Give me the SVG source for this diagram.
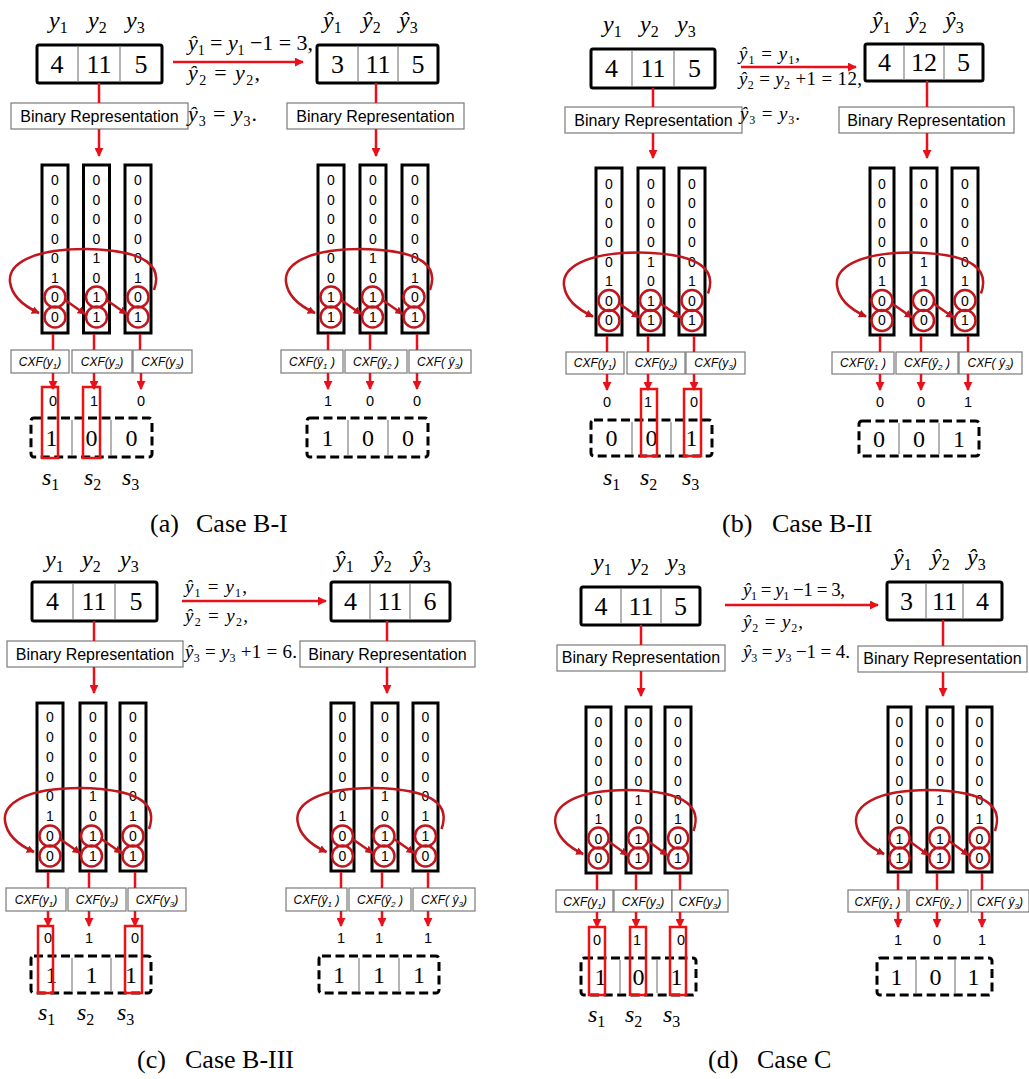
<svg xmlns="http://www.w3.org/2000/svg" xmlns:xlink="http://www.w3.org/1999/xlink" width="1029" height="1079" viewBox="0 0 1029 1079">
<style>
.bx{fill:#fff;stroke:#000;stroke-width:3}
.dv{stroke:#8c8c8c;stroke-width:1.3}
.gb{fill:#fff;stroke:#7a7a7a;stroke-width:1.2}
.col{fill:#fff;stroke:#000;stroke-width:3}
.ds{fill:#fff;stroke:#000;stroke-width:3;stroke-dasharray:9 4.5}
.hl{fill:none;stroke:#ee1111;stroke-width:2.5}
.rl{stroke:#e8101a;stroke-width:2.5;fill:none}
.ra{stroke:#e8101a;stroke-width:2.5;fill:none;marker-end:url(#ah)}
.cc{fill:none;stroke:#c0161d;stroke-width:2.5}
.cv{fill:none;stroke:#c0161d;stroke-width:2.5;marker-end:url(#ah2)}
.v{font-family:"Liberation Serif",serif;font-size:26px;text-anchor:middle}
.v2{font-family:"Liberation Serif",serif;font-size:24px;text-anchor:middle}
.lb{font-family:"Liberation Serif",serif;font-style:italic;font-size:24px}
.sb{font-style:normal;font-size:16px}
.brt{font-family:"Liberation Sans",Arial,sans-serif;font-size:16px;text-anchor:middle}
.bit{font-family:"Liberation Sans",Arial,sans-serif;font-size:14px;text-anchor:middle}
.ob{font-family:"Liberation Sans",Arial,sans-serif;font-size:14.5px;text-anchor:middle}
.cx{font-family:"Liberation Sans",Arial,sans-serif;font-style:italic;font-size:12px;text-anchor:middle}
.cs{font-size:8px}
.fm{font-family:"Liberation Serif",serif;font-size:22px}
.fm2{font-family:"Liberation Serif",serif;font-size:19px}
.it{font-style:italic}
.fsb{font-size:14px}
.fsb2{font-size:12px}
.cap{font-family:"Liberation Serif",serif;font-size:26px}
</style>
<defs>
<marker id="ah" viewBox="0 0 10 10" refX="9" refY="5" markerWidth="9" markerHeight="9" markerUnits="userSpaceOnUse" orient="auto"><path d="M0,0 L10,5 L0,10 z" fill="#e8101a"/></marker>
<marker id="ah2" viewBox="0 0 10 10" refX="9" refY="5" markerWidth="8" markerHeight="8" markerUnits="userSpaceOnUse" orient="auto"><path d="M0,0 L10,5 L0,10 z" fill="#c0161d"/></marker>
<g id="loop">
<circle class="cc" cx="0" cy="0" r="10.5"/><circle class="cc" cx="0" cy="20" r="10.5"/>
<circle class="cc" cx="41.5" cy="0" r="10.5"/><circle class="cc" cx="41.5" cy="20" r="10.5"/>
<circle class="cc" cx="83" cy="0" r="10.5"/><circle class="cc" cx="83" cy="20" r="10.5"/>
<path class="cv" d="M99,-7 C107,-29 95,-47 30,-48 C-25,-48 -47,-32 -45,-15 C-43,1 -27,11 -16,16"/>
<path class="cv" d="M10,3 L30,17"/>
<path class="cv" d="M51.5,3 L71.5,17"/>
</g>
</defs>
<rect width="1029" height="1079" fill="#fff"/>

<!-- ================= (a) ================= -->
<g id="aL-in">
<text class="lb" x="49" y="28">y<tspan class="sb" dy="5">1</tspan></text>
<text class="lb" x="88" y="28">y<tspan class="sb" dy="5">2</tspan></text>
<text class="lb" x="126" y="28">y<tspan class="sb" dy="5">3</tspan></text>
<rect class="bx" x="37" y="45" width="125" height="38" rx="2"/>
<line class="dv" x1="78" y1="46.5" x2="78" y2="81.5"/><line class="dv" x1="120" y1="46.5" x2="120" y2="81.5"/>
<text class="v" x="57" y="73">4</text><text class="v" x="99" y="73">11</text><text class="v" x="141" y="73">5</text>
</g>
<g id="aL-br"><rect class="gb" x="11" y="103" width="177" height="26"/><text class="brt" x="99.5" y="122">Binary Representation</text></g>
<g id="aL-bits">
<rect class="col" x="42" y="165" width="26" height="168"/><rect class="col" x="83.5" y="165" width="26" height="168"/><rect class="col" x="125" y="165" width="26" height="168"/>
<text class="bit" x="55 55 55 55 55 55 55 55" y="185 204.5 224 243.5 263 282.5 302 321.5">00000100</text>
<text class="bit" x="96.5 96.5 96.5 96.5 96.5 96.5 96.5 96.5" y="185 204.5 224 243.5 263 282.5 302 321.5">00001011</text>
<text class="bit" x="138 138 138 138 138 138 138 138" y="185 204.5 224 243.5 263 282.5 302 321.5">00000101</text>
</g>
<g id="aL-cxf">
<rect class="gb" x="11" y="350" width="58" height="23"/><rect class="gb" x="72" y="350" width="60" height="23"/><rect class="gb" x="133" y="350" width="59" height="23"/>
<text class="cx" x="40" y="366">CXF(y<tspan class="cs" dy="3">1</tspan><tspan dy="-3">)</tspan></text>
<text class="cx" x="102" y="366">CXF(y<tspan class="cs" dy="3">2</tspan><tspan dy="-3">)</tspan></text>
<text class="cx" x="162.5" y="366">CXF(y<tspan class="cs" dy="3">3</tspan><tspan dy="-3">)</tspan></text>
</g>
<g id="aL-out">
<text class="ob" x="53" y="406">0</text><text class="ob" x="94" y="406">1</text><text class="ob" x="141" y="406">0</text>
<rect class="ds" x="31" y="418" width="121" height="39" rx="3"/>
<line class="dv" x1="72" y1="420" x2="72" y2="455"/><line class="dv" x1="111" y1="420" x2="111" y2="455"/>
<text class="v2" x="51.5" y="446">1</text><text class="v2" x="91.5" y="446">0</text><text class="v2" x="131.5" y="446">0</text>
<rect class="hl" x="42" y="387" width="16" height="71"/><rect class="hl" x="83" y="387" width="17" height="71"/>
</g>
<g id="aL-s">
<text class="lb" x="42" y="485">s<tspan class="sb" dy="5">1</tspan></text>
<text class="lb" x="84" y="485">s<tspan class="sb" dy="5">2</tspan></text>
<text class="lb" x="122" y="485">s<tspan class="sb" dy="5">3</tspan></text>
</g>
<g id="a-eq">
<text class="fm" x="188" y="50" textLength="125"><tspan class="it">ŷ</tspan><tspan class="fsb" dy="5">1</tspan><tspan dy="-5"> = </tspan><tspan class="it">y</tspan><tspan class="fsb" dy="5">1</tspan><tspan dy="-5"> −1 = 3,</tspan></text>
<text class="fm" x="188" y="80" textLength="72"><tspan class="it">ŷ</tspan><tspan class="fsb" dy="5">2</tspan><tspan dy="-5"> = </tspan><tspan class="it">y</tspan><tspan class="fsb" dy="5">2</tspan><tspan dy="-5">,</tspan></text>
<text class="fm" x="188" y="121" textLength="69"><tspan class="it">ŷ</tspan><tspan class="fsb" dy="5">3</tspan><tspan dy="-5"> = </tspan><tspan class="it">y</tspan><tspan class="fsb" dy="5">3</tspan><tspan dy="-5">.</tspan></text>
</g>
<g id="aR-in">
<text class="lb" x="323" y="28">ŷ<tspan class="sb" dy="5">1</tspan></text>
<text class="lb" x="362" y="28">ŷ<tspan class="sb" dy="5">2</tspan></text>
<text class="lb" x="399" y="28">ŷ<tspan class="sb" dy="5">3</tspan></text>
<rect class="bx" x="317" y="45" width="121" height="38" rx="2"/>
<line class="dv" x1="358" y1="46.5" x2="358" y2="81.5"/><line class="dv" x1="398" y1="46.5" x2="398" y2="81.5"/>
<text class="v" x="337.5" y="73">3</text><text class="v" x="378" y="73">11</text><text class="v" x="418" y="73">5</text>
</g>
<g id="aR-br"><rect class="gb" x="287" y="103" width="177" height="26"/><text class="brt" x="375.5" y="122">Binary Representation</text></g>
<g id="aR-bits">
<rect class="col" x="318" y="165" width="26" height="168"/><rect class="col" x="360" y="165" width="26" height="168"/><rect class="col" x="402" y="165" width="26" height="168"/>
<text class="bit" x="331 331 331 331 331 331 331 331" y="185 204.5 224 243.5 263 282.5 302 321.5">00000011</text>
<text class="bit" x="373 373 373 373 373 373 373 373" y="185 204.5 224 243.5 263 282.5 302 321.5">00001011</text>
<text class="bit" x="415 415 415 415 415 415 415 415" y="185 204.5 224 243.5 263 282.5 302 321.5">00000101</text>
</g>
<g id="aR-cxf">
<rect class="gb" x="281" y="350" width="62" height="23"/><rect class="gb" x="345" y="350" width="62" height="23"/><rect class="gb" x="409" y="350" width="62" height="23"/>
<text class="cx" x="312" y="366">CXF(ŷ<tspan class="cs" dy="3">1</tspan><tspan dy="-3"> )</tspan></text>
<text class="cx" x="376" y="366">CXF(ŷ<tspan class="cs" dy="3">2</tspan><tspan dy="-3"> )</tspan></text>
<text class="cx" x="440" y="366">CXF( ŷ<tspan class="cs" dy="3">3</tspan><tspan dy="-3">)</tspan></text>
</g>
<g id="aR-out">
<text class="ob" x="328" y="406">1</text><text class="ob" x="370" y="406">0</text><text class="ob" x="417" y="406">0</text>
<rect class="ds" x="307" y="418" width="121" height="39" rx="3"/>
<line class="dv" x1="348" y1="420" x2="348" y2="455"/><line class="dv" x1="388" y1="420" x2="388" y2="455"/>
<text class="v2" x="327.5" y="446">1</text><text class="v2" x="368" y="446">0</text><text class="v2" x="408" y="446">0</text>
</g>
<g id="a-cap"><text class="cap" x="150" y="532">(a)</text><text class="cap" x="196" y="532">Case B-I</text></g>

<!-- ================= (b) ================= -->
<g id="bL-in">
<text class="lb" x="603" y="32">y<tspan class="sb" dy="5">1</tspan></text>
<text class="lb" x="640" y="32">y<tspan class="sb" dy="5">2</tspan></text>
<text class="lb" x="677" y="32">y<tspan class="sb" dy="5">3</tspan></text>
<rect class="bx" x="591" y="49" width="124" height="39" rx="2"/>
<line class="dv" x1="632" y1="50.5" x2="632" y2="86.5"/><line class="dv" x1="674" y1="50.5" x2="674" y2="86.5"/>
<text class="v" x="611.5" y="77">4</text><text class="v" x="653" y="77">11</text><text class="v" x="694.5" y="77">5</text>
</g>
<g id="bL-br"><rect class="gb" x="565" y="107" width="177" height="26"/><text class="brt" x="653.5" y="126">Binary Representation</text></g>
<g id="bL-bits">
<rect class="col" x="596" y="168" width="26" height="167"/><rect class="col" x="638" y="168" width="26" height="167"/><rect class="col" x="679" y="168" width="26" height="167"/>
<text class="bit" x="609 609 609 609 609 609 609 609" y="188.5 208 227.5 247 266.5 286 305.5 325">00000100</text>
<text class="bit" x="651 651 651 651 651 651 651 651" y="188.5 208 227.5 247 266.5 286 305.5 325">00001011</text>
<text class="bit" x="692 692 692 692 692 692 692 692" y="188.5 208 227.5 247 266.5 286 305.5 325">00000101</text>
</g>
<g id="bL-cxf">
<rect class="gb" x="566" y="352" width="58" height="22"/><rect class="gb" x="627" y="352" width="58" height="22"/><rect class="gb" x="686" y="352" width="59" height="22"/>
<text class="cx" x="595" y="367">CXF(y<tspan class="cs" dy="3">1</tspan><tspan dy="-3">)</tspan></text>
<text class="cx" x="656" y="367">CXF(y<tspan class="cs" dy="3">2</tspan><tspan dy="-3">)</tspan></text>
<text class="cx" x="715.5" y="367">CXF(y<tspan class="cs" dy="3">3</tspan><tspan dy="-3">)</tspan></text>
</g>
<g id="bL-out">
<text class="ob" x="607" y="407">0</text><text class="ob" x="648" y="407">1</text><text class="ob" x="694" y="407">0</text>
<rect class="ds" x="591" y="420" width="121" height="36" rx="3"/>
<line class="dv" x1="632" y1="422" x2="632" y2="454"/><line class="dv" x1="671" y1="422" x2="671" y2="454"/>
<text class="v2" x="611.5" y="446">0</text><text class="v2" x="651.5" y="446">0</text><text class="v2" x="691.5" y="446">1</text>
<rect class="hl" x="641" y="389" width="16" height="67"/><rect class="hl" x="684" y="389" width="17" height="67"/>
</g>
<g id="bL-s">
<text class="lb" x="603" y="485">s<tspan class="sb" dy="5">1</tspan></text>
<text class="lb" x="640" y="485">s<tspan class="sb" dy="5">2</tspan></text>
<text class="lb" x="682" y="485">s<tspan class="sb" dy="5">3</tspan></text>
</g>
<g id="b-eq">
<text class="fm2" x="739" y="60" textLength="61"><tspan class="it">ŷ</tspan><tspan class="fsb2" dy="4">1</tspan><tspan dy="-4"> = </tspan><tspan class="it">y</tspan><tspan class="fsb2" dy="4">1</tspan><tspan dy="-4">,</tspan></text>
<text class="fm2" x="739" y="85" textLength="123"><tspan class="it">ŷ</tspan><tspan class="fsb2" dy="4">2</tspan><tspan dy="-4"> = </tspan><tspan class="it">y</tspan><tspan class="fsb2" dy="4">2</tspan><tspan dy="-4"> +1 = 12,</tspan></text>
<text class="fm2" x="740" y="120" textLength="60"><tspan class="it">ŷ</tspan><tspan class="fsb2" dy="4">3</tspan><tspan dy="-4"> = </tspan><tspan class="it">y</tspan><tspan class="fsb2" dy="4">3</tspan><tspan dy="-4">.</tspan></text>
</g>
<g id="bR-in">
<text class="lb" x="872" y="28">ŷ<tspan class="sb" dy="5">1</tspan></text>
<text class="lb" x="908" y="28">ŷ<tspan class="sb" dy="5">2</tspan></text>
<text class="lb" x="945" y="28">ŷ<tspan class="sb" dy="5">3</tspan></text>
<rect class="bx" x="865" y="44" width="118" height="37" rx="2"/>
<line class="dv" x1="904" y1="45.5" x2="904" y2="79.5"/><line class="dv" x1="944" y1="45.5" x2="944" y2="79.5"/>
<text class="v" x="884.5" y="71">4</text><text class="v" x="924" y="71">12</text><text class="v" x="963.5" y="71">5</text>
</g>
<g id="bR-br"><rect class="gb" x="839" y="107" width="175" height="26"/><text class="brt" x="926.5" y="126">Binary Representation</text></g>
<g id="bR-bits">
<rect class="col" x="870" y="168" width="24" height="167"/><rect class="col" x="911" y="168" width="26" height="167"/><rect class="col" x="952" y="168" width="26" height="167"/>
<text class="bit" x="882 882 882 882 882 882 882 882" y="188.5 208 227.5 247 266.5 286 305.5 325">00000100</text>
<text class="bit" x="924 924 924 924 924 924 924 924" y="188.5 208 227.5 247 266.5 286 305.5 325">00001100</text>
<text class="bit" x="965 965 965 965 965 965 965 965" y="188.5 208 227.5 247 266.5 286 305.5 325">00000101</text>
</g>
<g id="bR-cxf">
<rect class="gb" x="832" y="352" width="62" height="22"/><rect class="gb" x="896" y="352" width="62" height="22"/><rect class="gb" x="959" y="352" width="63" height="22"/>
<text class="cx" x="863" y="367">CXF(ŷ<tspan class="cs" dy="3">1</tspan><tspan dy="-3"> )</tspan></text>
<text class="cx" x="927" y="367">CXF(ŷ<tspan class="cs" dy="3">2</tspan><tspan dy="-3"> )</tspan></text>
<text class="cx" x="990.5" y="367">CXF( ŷ<tspan class="cs" dy="3">3</tspan><tspan dy="-3">)</tspan></text>
</g>
<g id="bR-out">
<text class="ob" x="880" y="407">0</text><text class="ob" x="921" y="407">0</text><text class="ob" x="968" y="407">1</text>
<rect class="ds" x="859" y="421" width="120" height="35" rx="3"/>
<line class="dv" x1="899" y1="423" x2="899" y2="454"/><line class="dv" x1="939" y1="423" x2="939" y2="454"/>
<text class="v2" x="879" y="447">0</text><text class="v2" x="919" y="447">0</text><text class="v2" x="959" y="447">1</text>
</g>
<g id="b-cap"><text class="cap" x="722" y="532">(b)</text><text class="cap" x="772" y="532">Case B-II</text></g>

<!-- ================= (c) ================= -->
<g id="cL-in">
<text class="lb" x="45" y="567">y<tspan class="sb" dy="5">1</tspan></text>
<text class="lb" x="82" y="567">y<tspan class="sb" dy="5">2</tspan></text>
<text class="lb" x="120" y="567">y<tspan class="sb" dy="5">3</tspan></text>
<rect class="bx" x="32" y="582" width="125" height="39" rx="2"/>
<line class="dv" x1="73" y1="583.5" x2="73" y2="619.5"/><line class="dv" x1="115" y1="583.5" x2="115" y2="619.5"/>
<text class="v" x="52.5" y="610">4</text><text class="v" x="94" y="610">11</text><text class="v" x="136" y="610">5</text>
</g>
<g id="cL-br"><rect class="gb" x="7" y="641" width="176" height="26"/><text class="brt" x="95" y="660">Binary Representation</text></g>
<g id="cL-bits">
<rect class="col" x="37" y="703" width="26" height="168"/><rect class="col" x="80" y="703" width="26" height="168"/><rect class="col" x="120" y="703" width="26" height="168"/>
<text class="bit" x="50 50 50 50 50 50 50 50" y="722 742 762 782 801 821 841 861">00000100</text>
<text class="bit" x="93 93 93 93 93 93 93 93" y="722 742 762 782 801 821 841 861">00001011</text>
<text class="bit" x="133 133 133 133 133 133 133 133" y="722 742 762 782 801 821 841 861">00000101</text>
</g>
<g id="cL-cxf">
<rect class="gb" x="6" y="888" width="60" height="23"/><rect class="gb" x="68" y="888" width="58" height="23"/><rect class="gb" x="128" y="888" width="58" height="23"/>
<text class="cx" x="36" y="904">CXF(y<tspan class="cs" dy="3">1</tspan><tspan dy="-3">)</tspan></text>
<text class="cx" x="97" y="904">CXF(y<tspan class="cs" dy="3">2</tspan><tspan dy="-3">)</tspan></text>
<text class="cx" x="157" y="904">CXF(y<tspan class="cs" dy="3">3</tspan><tspan dy="-3">)</tspan></text>
</g>
<g id="cL-out">
<text class="ob" x="48" y="943">0</text><text class="ob" x="89" y="943">1</text><text class="ob" x="135" y="943">0</text>
<rect class="ds" x="31" y="956" width="120" height="37" rx="3"/>
<line class="dv" x1="72" y1="958" x2="72" y2="991"/><line class="dv" x1="111" y1="958" x2="111" y2="991"/>
<text class="v2" x="51.5" y="983">1</text><text class="v2" x="91.5" y="983">1</text><text class="v2" x="131" y="983">1</text>
<rect class="hl" x="38" y="926" width="15" height="67"/><rect class="hl" x="125" y="926" width="17" height="67"/>
</g>
<g id="cL-s">
<text class="lb" x="38" y="1020">s<tspan class="sb" dy="5">1</tspan></text>
<text class="lb" x="77" y="1020">s<tspan class="sb" dy="5">2</tspan></text>
<text class="lb" x="117" y="1020">s<tspan class="sb" dy="5">3</tspan></text>
</g>
<g id="c-eq">
<text class="fm2" x="185" y="593" textLength="62"><tspan class="it">ŷ</tspan><tspan class="fsb2" dy="4">1</tspan><tspan dy="-4"> = </tspan><tspan class="it">y</tspan><tspan class="fsb2" dy="4">1</tspan><tspan dy="-4">,</tspan></text>
<text class="fm2" x="185" y="622" textLength="63"><tspan class="it">ŷ</tspan><tspan class="fsb2" dy="4">2</tspan><tspan dy="-4"> = </tspan><tspan class="it">y</tspan><tspan class="fsb2" dy="4">2</tspan><tspan dy="-4">,</tspan></text>
<text class="fm2" x="185" y="658" textLength="112"><tspan class="it">ŷ</tspan><tspan class="fsb2" dy="4">3</tspan><tspan dy="-4"> = </tspan><tspan class="it">y</tspan><tspan class="fsb2" dy="4">3</tspan><tspan dy="-4"> +1 = 6.</tspan></text>
</g>
<g id="cR-in">
<text class="lb" x="335" y="567">ŷ<tspan class="sb" dy="5">1</tspan></text>
<text class="lb" x="373" y="567">ŷ<tspan class="sb" dy="5">2</tspan></text>
<text class="lb" x="412" y="567">ŷ<tspan class="sb" dy="5">3</tspan></text>
<rect class="bx" x="331" y="582" width="119" height="39" rx="2"/>
<line class="dv" x1="370" y1="583.5" x2="370" y2="619.5"/><line class="dv" x1="410" y1="583.5" x2="410" y2="619.5"/>
<text class="v" x="350.5" y="610">4</text><text class="v" x="390" y="610">11</text><text class="v" x="430" y="610">6</text>
</g>
<g id="cR-br"><rect class="gb" x="300" y="641" width="175" height="26"/><text class="brt" x="387.5" y="660">Binary Representation</text></g>
<g id="cR-bits">
<rect class="col" x="331" y="703" width="23" height="168"/><rect class="col" x="372" y="703" width="26" height="168"/><rect class="col" x="413" y="703" width="25" height="168"/>
<text class="bit" x="342.5 342.5 342.5 342.5 342.5 342.5 342.5 342.5" y="722 742 762 782 801 821 841 861">00000100</text>
<text class="bit" x="385 385 385 385 385 385 385 385" y="722 742 762 782 801 821 841 861">00001011</text>
<text class="bit" x="425.5 425.5 425.5 425.5 425.5 425.5 425.5 425.5" y="722 742 762 782 801 821 841 861">00000110</text>
</g>
<g id="cR-cxf">
<rect class="gb" x="286" y="888" width="61" height="23"/><rect class="gb" x="349" y="888" width="62" height="23"/><rect class="gb" x="413" y="888" width="62" height="23"/>
<text class="cx" x="316.5" y="904">CXF(ŷ<tspan class="cs" dy="3">1</tspan><tspan dy="-3"> )</tspan></text>
<text class="cx" x="380" y="904">CXF(ŷ<tspan class="cs" dy="3">2</tspan><tspan dy="-3"> )</tspan></text>
<text class="cx" x="444" y="904">CXF( ŷ<tspan class="cs" dy="3">3</tspan><tspan dy="-3">)</tspan></text>
</g>
<g id="cR-out">
<text class="ob" x="341" y="943">1</text><text class="ob" x="379" y="943">1</text><text class="ob" x="428" y="943">1</text>
<rect class="ds" x="319" y="956" width="120" height="37" rx="3"/>
<line class="dv" x1="359" y1="958" x2="359" y2="991"/><line class="dv" x1="399" y1="958" x2="399" y2="991"/>
<text class="v2" x="339" y="983">1</text><text class="v2" x="379" y="983">1</text><text class="v2" x="419" y="983">1</text>
</g>
<g id="c-cap"><text class="cap" x="137" y="1068">(c)</text><text class="cap" x="185" y="1068">Case B-III</text></g>

<!-- ================= (d) ================= -->
<g id="dL-in">
<text class="lb" x="593" y="570">y<tspan class="sb" dy="5">1</tspan></text>
<text class="lb" x="630" y="570">y<tspan class="sb" dy="5">2</tspan></text>
<text class="lb" x="667" y="570">y<tspan class="sb" dy="5">3</tspan></text>
<rect class="bx" x="581" y="587" width="119" height="38" rx="2"/>
<line class="dv" x1="621" y1="588.5" x2="621" y2="623.5"/><line class="dv" x1="661" y1="588.5" x2="661" y2="623.5"/>
<text class="v" x="601" y="615">4</text><text class="v" x="641" y="615">11</text><text class="v" x="680.5" y="615">5</text>
</g>
<g id="dL-br"><rect class="gb" x="557" y="645" width="168" height="26"/><text class="brt" x="641" y="663">Binary Representation</text></g>
<g id="dL-bits">
<rect class="col" x="586" y="707" width="25" height="166"/><rect class="col" x="626" y="707" width="25" height="166"/><rect class="col" x="665" y="707" width="26" height="166"/>
<text class="bit" x="598.5 598.5 598.5 598.5 598.5 598.5 598.5 598.5" y="727 746.5 766 785.5 805 824 843.5 863">00000100</text>
<text class="bit" x="638.5 638.5 638.5 638.5 638.5 638.5 638.5 638.5" y="727 746.5 766 785.5 805 824 843.5 863">00001011</text>
<text class="bit" x="678 678 678 678 678 678 678 678" y="727 746.5 766 785.5 805 824 843.5 863">00000101</text>
</g>
<g id="dL-cxf">
<rect class="gb" x="556" y="890" width="57" height="22"/><rect class="gb" x="614" y="890" width="58" height="22"/><rect class="gb" x="672" y="890" width="56" height="22"/>
<text class="cx" x="584.5" y="906">CXF(y<tspan class="cs" dy="3">1</tspan><tspan dy="-3">)</tspan></text>
<text class="cx" x="643" y="906">CXF(y<tspan class="cs" dy="3">2</tspan><tspan dy="-3">)</tspan></text>
<text class="cx" x="700" y="906">CXF(y<tspan class="cs" dy="3">3</tspan><tspan dy="-3">)</tspan></text>
</g>
<g id="dL-out">
<text class="ob" x="597" y="945">0</text><text class="ob" x="637" y="945">1</text><text class="ob" x="681" y="945">0</text>
<rect class="ds" x="581" y="958" width="115" height="37" rx="3"/>
<line class="dv" x1="620" y1="960" x2="620" y2="993"/><line class="dv" x1="657" y1="960" x2="657" y2="993"/>
<text class="v2" x="600.5" y="985">1</text><text class="v2" x="638.5" y="985">0</text><text class="v2" x="676.5" y="985">1</text>
<rect class="hl" x="589" y="927" width="16" height="68"/><rect class="hl" x="630" y="927" width="16" height="68"/><rect class="hl" x="670" y="927" width="16" height="68"/>
</g>
<g id="dL-s">
<text class="lb" x="588" y="1022">s<tspan class="sb" dy="5">1</tspan></text>
<text class="lb" x="625" y="1022">s<tspan class="sb" dy="5">2</tspan></text>
<text class="lb" x="663" y="1022">s<tspan class="sb" dy="5">3</tspan></text>
</g>
<g id="d-eq">
<text class="fm2" x="743" y="596" textLength="102"><tspan class="it">ŷ</tspan><tspan class="fsb2" dy="4">1</tspan><tspan dy="-4"> = </tspan><tspan class="it">y</tspan><tspan class="fsb2" dy="4">1</tspan><tspan dy="-4"> −1 = 3,</tspan></text>
<text class="fm2" x="743" y="628" textLength="60"><tspan class="it">ŷ</tspan><tspan class="fsb2" dy="4">2</tspan><tspan dy="-4"> = </tspan><tspan class="it">y</tspan><tspan class="fsb2" dy="4">2</tspan><tspan dy="-4">,</tspan></text>
<text class="fm2" x="743" y="658" textLength="107"><tspan class="it">ŷ</tspan><tspan class="fsb2" dy="4">3</tspan><tspan dy="-4"> = </tspan><tspan class="it">y</tspan><tspan class="fsb2" dy="4">3</tspan><tspan dy="-4"> −1 = 4.</tspan></text>
</g>
<g id="dR-in">
<text class="lb" x="893" y="565">ŷ<tspan class="sb" dy="5">1</tspan></text>
<text class="lb" x="931" y="565">ŷ<tspan class="sb" dy="5">2</tspan></text>
<text class="lb" x="967" y="565">ŷ<tspan class="sb" dy="5">3</tspan></text>
<rect class="bx" x="887" y="582" width="115" height="38" rx="2"/>
<line class="dv" x1="926" y1="583.5" x2="926" y2="618.5"/><line class="dv" x1="963" y1="583.5" x2="963" y2="618.5"/>
<text class="v" x="906.5" y="610">3</text><text class="v" x="944.5" y="610">11</text><text class="v" x="982.5" y="610">4</text>
</g>
<g id="dR-br"><rect class="gb" x="858" y="646" width="169" height="26"/><text class="brt" x="942.5" y="664">Binary Representation</text></g>
<g id="dR-bits">
<rect class="col" x="888" y="707" width="23" height="165"/><rect class="col" x="927" y="707" width="26" height="165"/><rect class="col" x="967" y="707" width="25" height="165"/>
<text class="bit" x="899.5 899.5 899.5 899.5 899.5 899.5 899.5 899.5" y="727 746.5 766 785.5 805 824 843.5 863">00000011</text>
<text class="bit" x="940 940 940 940 940 940 940 940" y="727 746.5 766 785.5 805 824 843.5 863">00001011</text>
<text class="bit" x="979.5 979.5 979.5 979.5 979.5 979.5 979.5 979.5" y="727 746.5 766 785.5 805 824 843.5 863">00000100</text>
</g>
<g id="dR-cxf">
<rect class="gb" x="848" y="890" width="59" height="22"/><rect class="gb" x="909" y="890" width="59" height="22"/><rect class="gb" x="971" y="890" width="58" height="22"/>
<text class="cx" x="877.5" y="906">CXF(ŷ<tspan class="cs" dy="3">1</tspan><tspan dy="-3"> )</tspan></text>
<text class="cx" x="938.5" y="906">CXF(ŷ<tspan class="cs" dy="3">2</tspan><tspan dy="-3"> )</tspan></text>
<text class="cx" x="1000" y="906">CXF( ŷ<tspan class="cs" dy="3">3</tspan><tspan dy="-3">)</tspan></text>
</g>
<g id="dR-out">
<text class="ob" x="898" y="945">1</text><text class="ob" x="937" y="945">0</text><text class="ob" x="982" y="945">1</text>
<rect class="ds" x="877" y="958" width="115" height="37" rx="3"/>
<line class="dv" x1="916" y1="960" x2="916" y2="993"/><line class="dv" x1="955" y1="960" x2="955" y2="993"/>
<text class="v2" x="896.5" y="985">1</text><text class="v2" x="935.5" y="985">0</text><text class="v2" x="973.5" y="985">1</text>
</g>
<g id="d-cap"><text class="cap" x="708" y="1068">(d)</text><text class="cap" x="757" y="1068">Case C</text></g>

<!-- ================= connectors ================= -->
<g id="connectors">
<line class="rl" x1="99" y1="83" x2="99" y2="103"/><line class="ra" x1="99" y1="129" x2="99" y2="156"/>
<line class="rl" x1="53" y1="334" x2="53" y2="350"/><line class="rl" x1="94" y1="334" x2="94" y2="350"/><line class="rl" x1="140" y1="334" x2="140" y2="350"/>
<line class="ra" x1="53" y1="373" x2="53" y2="389"/><line class="ra" x1="94" y1="373" x2="94" y2="389"/><line class="ra" x1="141" y1="373" x2="141" y2="389"/>
<use href="#loop" xlink:href="#loop" transform="translate(55,297)"/>
<line class="ra" x1="173" y1="62" x2="303" y2="62"/>
<line class="rl" x1="376" y1="83" x2="376" y2="103"/><line class="ra" x1="376" y1="129" x2="376" y2="156"/>
<line class="rl" x1="328" y1="334" x2="328" y2="350"/><line class="rl" x1="370" y1="334" x2="370" y2="350"/><line class="rl" x1="417" y1="334" x2="417" y2="350"/>
<line class="ra" x1="328" y1="373" x2="328" y2="389"/><line class="ra" x1="370" y1="373" x2="370" y2="389"/><line class="ra" x1="417" y1="373" x2="417" y2="389"/>
<use href="#loop" xlink:href="#loop" transform="translate(331,297)"/>
<line class="rl" x1="653" y1="88" x2="653" y2="107"/><line class="ra" x1="653" y1="133" x2="653" y2="158"/>
<line class="rl" x1="607" y1="336" x2="607" y2="352"/><line class="rl" x1="648" y1="336" x2="648" y2="352"/><line class="rl" x1="694" y1="336" x2="694" y2="352"/>
<line class="ra" x1="607" y1="374" x2="607" y2="390"/><line class="ra" x1="648" y1="374" x2="648" y2="390"/><line class="ra" x1="694" y1="374" x2="694" y2="390"/>
<use href="#loop" xlink:href="#loop" transform="translate(609,300.5)"/>
<line class="ra" x1="741" y1="67" x2="856" y2="67"/>
<line class="rl" x1="927" y1="81" x2="927" y2="107"/><line class="ra" x1="927" y1="133" x2="927" y2="158"/>
<line class="rl" x1="880" y1="336" x2="880" y2="352"/><line class="rl" x1="921" y1="336" x2="921" y2="352"/><line class="rl" x1="968" y1="336" x2="968" y2="352"/>
<line class="ra" x1="880" y1="374" x2="880" y2="390"/><line class="ra" x1="921" y1="374" x2="921" y2="390"/><line class="ra" x1="968" y1="374" x2="968" y2="390"/>
<use href="#loop" xlink:href="#loop" transform="translate(882,300.5)"/>
<line class="rl" x1="94" y1="621" x2="94" y2="641"/><line class="ra" x1="94" y1="667" x2="94" y2="693"/>
<line class="rl" x1="48" y1="872" x2="48" y2="888"/><line class="rl" x1="89" y1="872" x2="89" y2="888"/><line class="rl" x1="135" y1="872" x2="135" y2="888"/>
<line class="ra" x1="48" y1="911" x2="48" y2="926"/><line class="ra" x1="89" y1="911" x2="89" y2="926"/><line class="ra" x1="135" y1="911" x2="135" y2="926"/>
<use href="#loop" xlink:href="#loop" transform="translate(50,836)"/>
<line class="ra" x1="182" y1="601" x2="326" y2="601"/>
<line class="rl" x1="387" y1="621" x2="387" y2="641"/><line class="ra" x1="387" y1="667" x2="387" y2="693"/>
<line class="rl" x1="341" y1="872" x2="341" y2="888"/><line class="rl" x1="382" y1="872" x2="382" y2="888"/><line class="rl" x1="428" y1="872" x2="428" y2="888"/>
<line class="ra" x1="341" y1="911" x2="341" y2="926"/><line class="ra" x1="382" y1="911" x2="382" y2="926"/><line class="ra" x1="428" y1="911" x2="428" y2="926"/>
<use href="#loop" xlink:href="#loop" transform="translate(342.5,836)"/>
<line class="rl" x1="641" y1="625" x2="641" y2="645"/><line class="ra" x1="641" y1="671" x2="641" y2="696"/>
<line class="rl" x1="597" y1="874" x2="597" y2="890"/><line class="rl" x1="636" y1="874" x2="636" y2="890"/><line class="rl" x1="680" y1="874" x2="680" y2="890"/>
<line class="ra" x1="597" y1="912" x2="597" y2="927"/><line class="ra" x1="636" y1="912" x2="636" y2="927"/><line class="ra" x1="680" y1="912" x2="680" y2="927"/>
<use href="#loop" xlink:href="#loop" transform="translate(598.5,838) scale(0.96,1)"/>
<line class="ra" x1="725" y1="605" x2="878" y2="605"/>
<line class="rl" x1="943" y1="620" x2="943" y2="646"/><line class="ra" x1="943" y1="672" x2="943" y2="696"/>
<line class="rl" x1="898" y1="873" x2="898" y2="890"/><line class="rl" x1="937" y1="873" x2="937" y2="890"/><line class="rl" x1="982" y1="873" x2="982" y2="890"/>
<line class="ra" x1="898" y1="912" x2="898" y2="927"/><line class="ra" x1="937" y1="912" x2="937" y2="927"/><line class="ra" x1="982" y1="912" x2="982" y2="927"/>
<use href="#loop" xlink:href="#loop" transform="translate(899.5,838) scale(0.964,1)"/>
</g>
</svg>
